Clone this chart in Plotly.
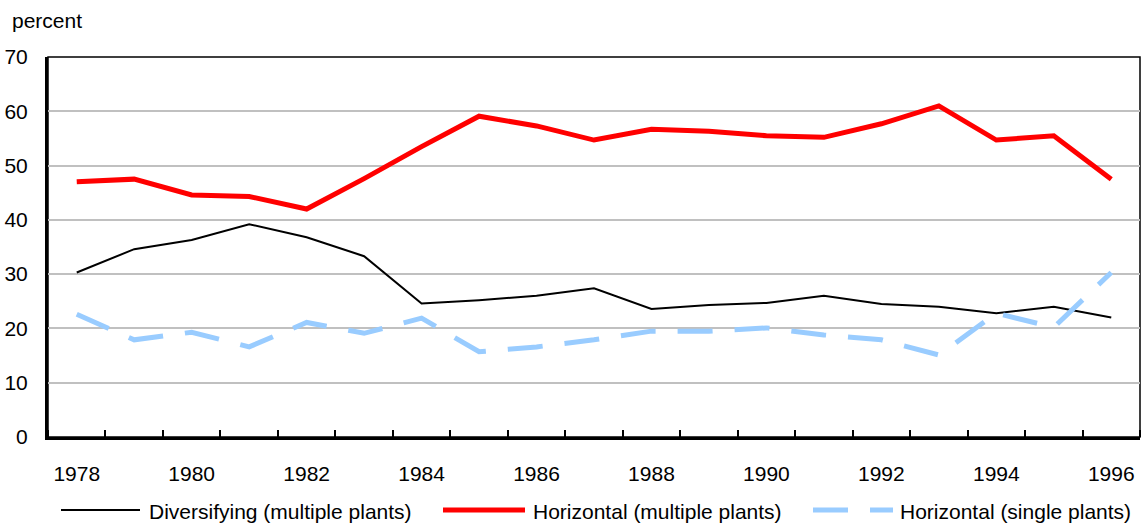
import plotly.graph_objects as go

years = list(range(1978, 1997))
diversifying_multi = [30.3, 34.6, 36.3, 39.2, 36.8, 33.3, 24.6, 25.2, 26.0, 27.4,
                      23.6, 24.3, 24.7, 26.0, 24.5, 24.0, 22.8, 24.0, 22.0]
horizontal_multi = [47.0, 47.5, 44.6, 44.3, 42.0, 47.6, 53.5, 59.1, 57.3, 54.7,
                    56.7, 56.3, 55.5, 55.2, 57.7, 61.0, 54.7, 55.5, 47.5]
horizontal_single = [22.6, 17.9, 19.3, 16.6, 21.1, 19.1, 21.9, 15.7, 16.6, 17.9,
                     19.5, 19.5, 20.1, 18.8, 17.9, 15.1, 22.8, 20.2, 30.3]
series_names = ["Diversifying (multiple plants)", "Horizontal (multiple plants)",
                "Horizontal (single plants)"]

FONT = "Arial, Liberation Sans, sans-serif"
FS = 21
styles = [
    dict(color="#000000", width=2, dash="solid"),
    dict(color="#FF0000", width=5, dash="solid"),
    dict(color="#99CCFF", width=5, dash="35px,22px"),
]

fig = go.Figure()
for name, vals, st in zip(series_names,
                          [diversifying_multi, horizontal_multi, horizontal_single],
                          styles):
    fig.add_trace(go.Scatter(x=years, y=vals, mode="lines", name=name,
                             line=st, showlegend=False))

# plot area in pixels
L, R, T, B = 48, 1140, 57, 437
W, H = R - L, B - T


def px2x(p):
    return (p - L) / W


def px2y(p):
    return (B - p) / H


# custom legend
legend_items = [(61, 140, 147), (443, 525, 531), (813, 893, 898)]
for (x0, x1, xt), name, st in zip(legend_items, series_names, styles):
    fig.add_shape(type="line", xref="paper", yref="paper",
                  x0=px2x(x0), x1=px2x(x1), y0=px2y(510), y1=px2y(510),
                  line=dict(color=st["color"], width=st["width"], dash=st["dash"]))
    fig.add_annotation(text=name, xref="paper", yref="paper", x=px2x(xt), y=px2y(511),
                       xanchor="left", yanchor="middle", showarrow=False,
                       font=dict(family=FONT, size=FS, color="black"))

# thin top/right border
fig.add_shape(type="rect", xref="paper", yref="paper", x0=0, x1=1, y0=0, y1=1,
              line=dict(color="black", width=1.5), layer="below")

fig.add_annotation(text="percent", xref="paper", yref="paper", x=px2x(10), y=px2y(21),
                   xanchor="left", yanchor="middle", showarrow=False,
                   font=dict(family=FONT, size=FS, color="black"))

fig.update_layout(
    width=1141, height=523,
    margin=dict(l=L, r=1141 - R, t=T, b=523 - B),
    paper_bgcolor="white", plot_bgcolor="white",
    font=dict(family=FONT, size=FS, color="black"),
    xaxis=dict(range=[1977.5, 1996.5], tickmode="linear", tick0=1978, dtick=2,
               ticks="", showgrid=False, zeroline=False,
               showline=True, linecolor="black", linewidth=3,
               ticklabelstandoff=16,
               minor=dict(ticks="inside", ticklen=7, tickwidth=2, tickcolor="black",
                          tick0=1977.5, dtick=1, showgrid=False)),
    yaxis=dict(range=[0, 70], tickmode="linear", tick0=0, dtick=10,
               ticks="", showgrid=True, gridcolor="#C0C0C0", gridwidth=2,
               zeroline=False, showline=True, linecolor="black", linewidth=3,
               ticklabelstandoff=13),
)

fig.write_html("out.html", post_script="document.body.style.margin='0px';",
               config={"displayModeBar": False})
